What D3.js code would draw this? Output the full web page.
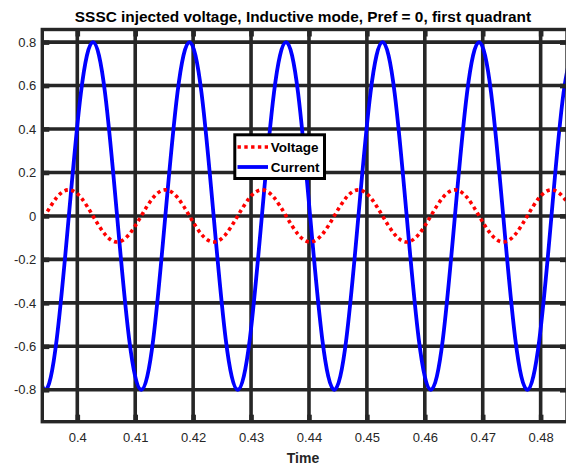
<!DOCTYPE html>
<html>
<head>
<meta charset="utf-8">
<script src="https://cdn.jsdelivr.net/npm/d3@7"></script>
<style>
  html, body { margin: 0; padding: 0; background: #fff; }
  svg { display: block; }
  text { font-family: "Liberation Sans", Arial, Helvetica, sans-serif; }
</style>
</head>
<body>
<svg id="chart" width="566" height="468"></svg>
<script>
// ---- data ----
const time = [
  0.39229, 0.39437, 0.39645, 0.39854, 0.40062, 0.40270, 0.40479, 0.40687,
  0.40895, 0.41104, 0.41312, 0.41520, 0.41729, 0.41937, 0.42145, 0.42354,
  0.42562, 0.42770, 0.42979, 0.43187, 0.43395, 0.43604, 0.43812, 0.44020,
  0.44229, 0.44437, 0.44645, 0.44854, 0.45062, 0.45270, 0.45479, 0.45687,
  0.45895, 0.46104, 0.46312, 0.46520, 0.46729, 0.46937, 0.47145, 0.47354,
  0.47562, 0.47770, 0.47979, 0.48187, 0.48395, 0.48604
];
const current = [
  -0.566,
  -0.8, -0.566, 0, 0.566, 0.8, 0.566, 0, -0.566,
  -0.8, -0.566, 0, 0.566, 0.8, 0.566, 0, -0.566,
  -0.8, -0.566, 0, 0.566, 0.8, 0.566, 0, -0.566,
  -0.8, -0.566, 0, 0.566, 0.8, 0.566, 0, -0.566,
  -0.8, -0.566, 0, 0.566, 0.8, 0.566, 0, -0.566,
  -0.8, -0.566, 0, 0.566, 0.8
];
const voltage = [
  -0.085,
  0, 0.085, 0.12, 0.085, 0, -0.085, -0.12, -0.085,
  0, 0.085, 0.12, 0.085, 0, -0.085, -0.12, -0.085,
  0, 0.085, 0.12, 0.085, 0, -0.085, -0.12, -0.085,
  0, 0.085, 0.12, 0.085, 0, -0.085, -0.12, -0.085,
  0, 0.085, 0.12, 0.085, 0, -0.085, -0.12, -0.085,
  0, 0.085, 0.12, 0.085, 0
];
const xTicks = [0.40, 0.41, 0.42, 0.43, 0.44, 0.45, 0.46, 0.47, 0.48];
const xTickLabels = ["0.4", "0.41", "0.42", "0.43", "0.44", "0.45", "0.46", "0.47", "0.48"];
const yTicks = [-0.8, -0.6, -0.4, -0.2, 0, 0.2, 0.4, 0.6, 0.8];
const yTickLabels = ["-0.8", "-0.6", "-0.4", "-0.2", "0", "0.2", "0.4", "0.6", "0.8"];
const seriesNames = ["Voltage", "Current"];
const titleText = "SSSC injected voltage, Inductive mode, Pref = 0, first quadrant";
const xLabelText = "Time";

// ---- layout ----
const L = 42.3, R = 567, T = 29.5, B = 421.7;
const axisColor = "#262626";

const svg = d3.select("#chart");
const x = d3.scaleLinear().domain([0.393957, 0.48455]).range([L, R]);
const y = d3.scaleLinear().domain([-0.947, 0.858]).range([B, T]);

svg.append("defs").append("clipPath").attr("id", "clip")
  .append("rect").attr("x", L).attr("y", T).attr("width", R - L).attr("height", B - T);

// grid
const grid = svg.append("g");
grid.selectAll("line.gx").data(xTicks).join("line")
  .attr("x1", d => x(d)).attr("x2", d => x(d)).attr("y1", T).attr("y2", B)
  .attr("stroke", axisColor).attr("stroke-width", 3.6);
grid.selectAll("line.gy").data(yTicks).join("line")
  .attr("x1", L).attr("x2", R).attr("y1", d => y(d)).attr("y2", d => y(d))
  .attr("stroke", axisColor).attr("stroke-width", 3.6);

// data lines
const pts = (vals) => time.map((t, i) => [t, vals[i]]);
const line = d3.line().x(d => x(d[0])).y(d => y(d[1])).curve(d3.curveNatural);
const plot = svg.append("g").attr("clip-path", "url(#clip)");
plot.append("path").datum(pts(current))
  .attr("d", line).attr("fill", "none").attr("stroke", "#0000ff").attr("stroke-width", 3.8);
plot.append("path").datum(pts(voltage))
  .attr("d", line).attr("fill", "none").attr("stroke", "#ff0000")
  .attr("stroke-width", 3.6).attr("stroke-dasharray", "3.4 3.4");

// axes (ticks inside)
const yAxis = d3.axisLeft(y).tickValues(yTicks).tickFormat((d, i) => yTickLabels[i])
  .tickSizeInner(-7).tickSizeOuter(0).tickPadding(6);
const gy = svg.append("g").attr("transform", `translate(${L},0)`).call(yAxis);
const xAxis = d3.axisBottom(x).tickValues(xTicks).tickFormat((d, i) => xTickLabels[i])
  .tickSizeInner(-7).tickSizeOuter(0).tickPadding(11);
const gx = svg.append("g").attr("transform", `translate(0,${B})`).call(xAxis);
[gx, gy].forEach(g => {
  g.select(".domain").remove();
  g.selectAll(".tick line").attr("stroke", axisColor).attr("stroke-width", 4.6);
  g.selectAll(".tick text").attr("fill", axisColor).style("font-size", "13px")
    .style("font-family", '"Liberation Sans", Arial, sans-serif');
});
// opposite-side ticks
const yAxisR = d3.axisRight(y).tickValues(yTicks).tickFormat("").tickSizeInner(-7).tickSizeOuter(0);
const gyr = svg.append("g").attr("transform", `translate(${R},0)`).call(yAxisR);
const xAxisT = d3.axisTop(x).tickValues(xTicks).tickFormat("").tickSizeInner(-7).tickSizeOuter(0);
const gxt = svg.append("g").attr("transform", `translate(0,${T})`).call(xAxisT);
[gyr, gxt].forEach(g => {
  g.select(".domain").remove();
  g.selectAll(".tick line").attr("stroke", axisColor).attr("stroke-width", 4.6);
});

// box
svg.append("rect").attr("x", L).attr("y", T).attr("width", R - L).attr("height", B - T)
  .attr("fill", "none").attr("stroke", axisColor).attr("stroke-width", 3.4);

// title & x label
svg.append("text").attr("x", 303).attr("y", 22).attr("text-anchor", "middle")
  .style("font-size", "15.4px").style("font-weight", "bold").attr("fill", "#000").text(titleText);
svg.append("text").attr("x", 303).attr("y", 463).attr("text-anchor", "middle")
  .style("font-size", "14px").style("font-weight", "bold").attr("fill", "#262626").text(xLabelText);

// legend
const lg = svg.append("g");
lg.append("rect").attr("x", 234.8).attr("y", 134.8).attr("width", 89.7).attr("height", 43.7)
  .attr("fill", "#fff").attr("stroke", "#000").attr("stroke-width", 3);
const legendStyles = [
  { color: "#ff0000", dash: "3.4 3.4", w: 3.6 },
  { color: "#0000ff", dash: null, w: 3.8 }
];
seriesNames.forEach((name, i) => {
  const cy = 147 + i * 20;
  lg.append("line").attr("x1", 237.5).attr("x2", 268).attr("y1", cy).attr("y2", cy)
    .attr("stroke", legendStyles[i].color).attr("stroke-width", legendStyles[i].w)
    .attr("stroke-dasharray", legendStyles[i].dash);
  lg.append("text").attr("x", 270.7).attr("y", cy + 5)
    .style("font-size", "13.5px").style("font-weight", "bold").attr("fill", "#000").text(name);
});
</script>
</body>
</html>
